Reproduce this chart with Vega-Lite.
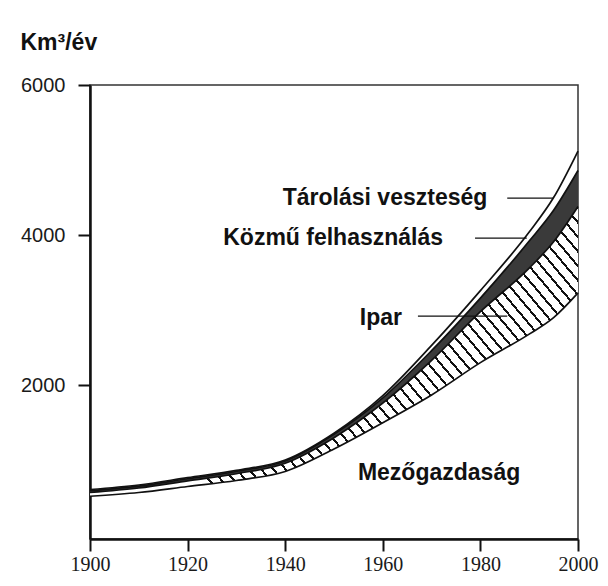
{
  "$schema": "https://vega.github.io/schema/vega-lite/v6.json",
  "width": 488,
  "height": 454,
  "autosize": "none",
  "padding": {"left": 90, "top": 85, "right": 30, "bottom": 47},
  "background": "white",
  "title": {"text": "Km³/év", "anchor": "start", "frame": "bounds", "font": "Liberation Sans", "fontSize": 23, "fontWeight": "bold", "color": "#111", "offset": 20},
  "config": {
    "view": {"stroke": "#333", "strokeWidth": 1.5},
    "axis": {"domainColor": "#111", "domainWidth": 2.5, "tickColor": "#111", "tickWidth": 2, "grid": false, "title": null, "labelColor": "#1a1a1a", "labelFlush": false, "labelOverlap": false}
  },
  "datasets": {
    "water": [
      {"year": 1900, "series": "Mezőgazdaság", "rank": 1, "value": 520},
      {"year": 1900, "series": "Ipar", "rank": 2, "value": 50},
      {"year": 1900, "series": "Közmű felhasználás", "rank": 3, "value": 25},
      {"year": 1900, "series": "Tárolási veszteség", "rank": 4, "value": 15},
      {"year": 1910, "series": "Mezőgazdaság", "rank": 1, "value": 570},
      {"year": 1910, "series": "Ipar", "rank": 2, "value": 60},
      {"year": 1910, "series": "Közmű felhasználás", "rank": 3, "value": 25},
      {"year": 1910, "series": "Tárolási veszteség", "rank": 4, "value": 15},
      {"year": 1920, "series": "Mezőgazdaság", "rank": 1, "value": 650},
      {"year": 1920, "series": "Ipar", "rank": 2, "value": 75},
      {"year": 1920, "series": "Közmű felhasználás", "rank": 3, "value": 28},
      {"year": 1920, "series": "Tárolási veszteség", "rank": 4, "value": 15},
      {"year": 1930, "series": "Mezőgazdaság", "rank": 1, "value": 730},
      {"year": 1930, "series": "Ipar", "rank": 2, "value": 90},
      {"year": 1930, "series": "Közmű felhasználás", "rank": 3, "value": 30},
      {"year": 1930, "series": "Tárolási veszteség", "rank": 4, "value": 15},
      {"year": 1940, "series": "Mezőgazdaság", "rank": 1, "value": 850},
      {"year": 1940, "series": "Ipar", "rank": 2, "value": 110},
      {"year": 1940, "series": "Közmű felhasználás", "rank": 3, "value": 30},
      {"year": 1940, "series": "Tárolási veszteség", "rank": 4, "value": 12},
      {"year": 1950, "series": "Mezőgazdaság", "rank": 1, "value": 1150},
      {"year": 1950, "series": "Ipar", "rank": 2, "value": 150},
      {"year": 1950, "series": "Közmű felhasználás", "rank": 3, "value": 45},
      {"year": 1950, "series": "Tárolási veszteség", "rank": 4, "value": 15},
      {"year": 1960, "series": "Mezőgazdaság", "rank": 1, "value": 1500},
      {"year": 1960, "series": "Ipar", "rank": 2, "value": 260},
      {"year": 1960, "series": "Közmű felhasználás", "rank": 3, "value": 70},
      {"year": 1960, "series": "Tárolási veszteség", "rank": 4, "value": 30},
      {"year": 1970, "series": "Mezőgazdaság", "rank": 1, "value": 1870},
      {"year": 1970, "series": "Ipar", "rank": 2, "value": 460},
      {"year": 1970, "series": "Közmű felhasználás", "rank": 3, "value": 130},
      {"year": 1970, "series": "Tárolási veszteség", "rank": 4, "value": 70},
      {"year": 1980, "series": "Mezőgazdaság", "rank": 1, "value": 2300},
      {"year": 1980, "series": "Ipar", "rank": 2, "value": 680},
      {"year": 1980, "series": "Közmű felhasználás", "rank": 3, "value": 180},
      {"year": 1980, "series": "Tárolási veszteség", "rank": 4, "value": 100},
      {"year": 1990, "series": "Mezőgazdaság", "rank": 1, "value": 2680},
      {"year": 1990, "series": "Ipar", "rank": 2, "value": 880},
      {"year": 1990, "series": "Közmű felhasználás", "rank": 3, "value": 360},
      {"year": 1990, "series": "Tárolási veszteség", "rank": 4, "value": 120},
      {"year": 1995, "series": "Mezőgazdaság", "rank": 1, "value": 2900},
      {"year": 1995, "series": "Ipar", "rank": 2, "value": 1010},
      {"year": 1995, "series": "Közmű felhasználás", "rank": 3, "value": 420},
      {"year": 1995, "series": "Tárolási veszteség", "rank": 4, "value": 170},
      {"year": 2000, "series": "Mezőgazdaság", "rank": 1, "value": 3230},
      {"year": 2000, "series": "Ipar", "rank": 2, "value": 1150},
      {"year": 2000, "series": "Közmű felhasználás", "rank": 3, "value": 480},
      {"year": 2000, "series": "Tárolási veszteség", "rank": 4, "value": 260}
    ],
    "labels": [
      {"year": 1939.5, "value": 4493, "text": "Tárolási veszteség"},
      {"year": 1927.3, "value": 3960, "text": "Közmű felhasználás"},
      {"year": 1955.3, "value": 2893, "text": "Ipar"},
      {"year": 1954.9, "value": 827, "text": "Mezőgazdaság"}
    ],
    "leaders": [
      {"from": 1985.5, "to": 1994.9, "value": 4493},
      {"from": 1978.9, "to": 1989.5, "value": 3960},
      {"from": 1967.2, "to": 1985.5, "value": 2920}
    ]
  },
  "layer": [
    {
      "data": {"name": "water"},
      "transform": [
        {"stack": "value", "groupby": ["year"], "sort": [{"field": "rank"}], "as": ["v0", "v1"]},
        {"filter": "datum.series === 'Ipar'"}
      ],
      "mark": {
        "type": "area", "interpolate": "monotone",
        "fill": {"gradient": "linear", "x1": 0, "y1": 0.5, "x2": 1, "y2": 0, "stops": [
          {"offset": 0.0000, "color": "#ffffff"}, {"offset": 0.0156, "color": "#ffffff"}, {"offset": 0.0156, "color": "#111111"}, {"offset": 0.0200, "color": "#111111"},
          {"offset": 0.0200, "color": "#ffffff"}, {"offset": 0.0356, "color": "#ffffff"}, {"offset": 0.0356, "color": "#111111"}, {"offset": 0.0400, "color": "#111111"},
          {"offset": 0.0400, "color": "#ffffff"}, {"offset": 0.0556, "color": "#ffffff"}, {"offset": 0.0556, "color": "#111111"}, {"offset": 0.0600, "color": "#111111"},
          {"offset": 0.0600, "color": "#ffffff"}, {"offset": 0.0756, "color": "#ffffff"}, {"offset": 0.0756, "color": "#111111"}, {"offset": 0.0800, "color": "#111111"},
          {"offset": 0.0800, "color": "#ffffff"}, {"offset": 0.0956, "color": "#ffffff"}, {"offset": 0.0956, "color": "#111111"}, {"offset": 0.1000, "color": "#111111"},
          {"offset": 0.1000, "color": "#ffffff"}, {"offset": 0.1156, "color": "#ffffff"}, {"offset": 0.1156, "color": "#111111"}, {"offset": 0.1200, "color": "#111111"},
          {"offset": 0.1200, "color": "#ffffff"}, {"offset": 0.1356, "color": "#ffffff"}, {"offset": 0.1356, "color": "#111111"}, {"offset": 0.1400, "color": "#111111"},
          {"offset": 0.1400, "color": "#ffffff"}, {"offset": 0.1556, "color": "#ffffff"}, {"offset": 0.1556, "color": "#111111"}, {"offset": 0.1600, "color": "#111111"},
          {"offset": 0.1600, "color": "#ffffff"}, {"offset": 0.1756, "color": "#ffffff"}, {"offset": 0.1756, "color": "#111111"}, {"offset": 0.1800, "color": "#111111"},
          {"offset": 0.1800, "color": "#ffffff"}, {"offset": 0.1956, "color": "#ffffff"}, {"offset": 0.1956, "color": "#111111"}, {"offset": 0.2000, "color": "#111111"},
          {"offset": 0.2000, "color": "#ffffff"}, {"offset": 0.2156, "color": "#ffffff"}, {"offset": 0.2156, "color": "#111111"}, {"offset": 0.2200, "color": "#111111"},
          {"offset": 0.2200, "color": "#ffffff"}, {"offset": 0.2356, "color": "#ffffff"}, {"offset": 0.2356, "color": "#111111"}, {"offset": 0.2400, "color": "#111111"},
          {"offset": 0.2400, "color": "#ffffff"}, {"offset": 0.2556, "color": "#ffffff"}, {"offset": 0.2556, "color": "#111111"}, {"offset": 0.2600, "color": "#111111"},
          {"offset": 0.2600, "color": "#ffffff"}, {"offset": 0.2756, "color": "#ffffff"}, {"offset": 0.2756, "color": "#111111"}, {"offset": 0.2800, "color": "#111111"},
          {"offset": 0.2800, "color": "#ffffff"}, {"offset": 0.2956, "color": "#ffffff"}, {"offset": 0.2956, "color": "#111111"}, {"offset": 0.3000, "color": "#111111"},
          {"offset": 0.3000, "color": "#ffffff"}, {"offset": 0.3156, "color": "#ffffff"}, {"offset": 0.3156, "color": "#111111"}, {"offset": 0.3200, "color": "#111111"},
          {"offset": 0.3200, "color": "#ffffff"}, {"offset": 0.3356, "color": "#ffffff"}, {"offset": 0.3356, "color": "#111111"}, {"offset": 0.3400, "color": "#111111"},
          {"offset": 0.3400, "color": "#ffffff"}, {"offset": 0.3556, "color": "#ffffff"}, {"offset": 0.3556, "color": "#111111"}, {"offset": 0.3600, "color": "#111111"},
          {"offset": 0.3600, "color": "#ffffff"}, {"offset": 0.3756, "color": "#ffffff"}, {"offset": 0.3756, "color": "#111111"}, {"offset": 0.3800, "color": "#111111"},
          {"offset": 0.3800, "color": "#ffffff"}, {"offset": 0.3956, "color": "#ffffff"}, {"offset": 0.3956, "color": "#111111"}, {"offset": 0.4000, "color": "#111111"},
          {"offset": 0.4000, "color": "#ffffff"}, {"offset": 0.4156, "color": "#ffffff"}, {"offset": 0.4156, "color": "#111111"}, {"offset": 0.4200, "color": "#111111"},
          {"offset": 0.4200, "color": "#ffffff"}, {"offset": 0.4356, "color": "#ffffff"}, {"offset": 0.4356, "color": "#111111"}, {"offset": 0.4400, "color": "#111111"},
          {"offset": 0.4400, "color": "#ffffff"}, {"offset": 0.4556, "color": "#ffffff"}, {"offset": 0.4556, "color": "#111111"}, {"offset": 0.4600, "color": "#111111"},
          {"offset": 0.4600, "color": "#ffffff"}, {"offset": 0.4756, "color": "#ffffff"}, {"offset": 0.4756, "color": "#111111"}, {"offset": 0.4800, "color": "#111111"},
          {"offset": 0.4800, "color": "#ffffff"}, {"offset": 0.4956, "color": "#ffffff"}, {"offset": 0.4956, "color": "#111111"}, {"offset": 0.5000, "color": "#111111"},
          {"offset": 0.5000, "color": "#ffffff"}, {"offset": 0.5156, "color": "#ffffff"}, {"offset": 0.5156, "color": "#111111"}, {"offset": 0.5200, "color": "#111111"},
          {"offset": 0.5200, "color": "#ffffff"}, {"offset": 0.5356, "color": "#ffffff"}, {"offset": 0.5356, "color": "#111111"}, {"offset": 0.5400, "color": "#111111"},
          {"offset": 0.5400, "color": "#ffffff"}, {"offset": 0.5556, "color": "#ffffff"}, {"offset": 0.5556, "color": "#111111"}, {"offset": 0.5600, "color": "#111111"},
          {"offset": 0.5600, "color": "#ffffff"}, {"offset": 0.5756, "color": "#ffffff"}, {"offset": 0.5756, "color": "#111111"}, {"offset": 0.5800, "color": "#111111"},
          {"offset": 0.5800, "color": "#ffffff"}, {"offset": 0.5956, "color": "#ffffff"}, {"offset": 0.5956, "color": "#111111"}, {"offset": 0.6000, "color": "#111111"},
          {"offset": 0.6000, "color": "#ffffff"}, {"offset": 0.6156, "color": "#ffffff"}, {"offset": 0.6156, "color": "#111111"}, {"offset": 0.6200, "color": "#111111"},
          {"offset": 0.6200, "color": "#ffffff"}, {"offset": 0.6356, "color": "#ffffff"}, {"offset": 0.6356, "color": "#111111"}, {"offset": 0.6400, "color": "#111111"},
          {"offset": 0.6400, "color": "#ffffff"}, {"offset": 0.6556, "color": "#ffffff"}, {"offset": 0.6556, "color": "#111111"}, {"offset": 0.6600, "color": "#111111"},
          {"offset": 0.6600, "color": "#ffffff"}, {"offset": 0.6756, "color": "#ffffff"}, {"offset": 0.6756, "color": "#111111"}, {"offset": 0.6800, "color": "#111111"},
          {"offset": 0.6800, "color": "#ffffff"}, {"offset": 0.6956, "color": "#ffffff"}, {"offset": 0.6956, "color": "#111111"}, {"offset": 0.7000, "color": "#111111"},
          {"offset": 0.7000, "color": "#ffffff"}, {"offset": 0.7156, "color": "#ffffff"}, {"offset": 0.7156, "color": "#111111"}, {"offset": 0.7200, "color": "#111111"},
          {"offset": 0.7200, "color": "#ffffff"}, {"offset": 0.7356, "color": "#ffffff"}, {"offset": 0.7356, "color": "#111111"}, {"offset": 0.7400, "color": "#111111"},
          {"offset": 0.7400, "color": "#ffffff"}, {"offset": 0.7556, "color": "#ffffff"}, {"offset": 0.7556, "color": "#111111"}, {"offset": 0.7600, "color": "#111111"},
          {"offset": 0.7600, "color": "#ffffff"}, {"offset": 0.7756, "color": "#ffffff"}, {"offset": 0.7756, "color": "#111111"}, {"offset": 0.7800, "color": "#111111"},
          {"offset": 0.7800, "color": "#ffffff"}, {"offset": 0.7956, "color": "#ffffff"}, {"offset": 0.7956, "color": "#111111"}, {"offset": 0.8000, "color": "#111111"},
          {"offset": 0.8000, "color": "#ffffff"}, {"offset": 0.8156, "color": "#ffffff"}, {"offset": 0.8156, "color": "#111111"}, {"offset": 0.8200, "color": "#111111"},
          {"offset": 0.8200, "color": "#ffffff"}, {"offset": 0.8356, "color": "#ffffff"}, {"offset": 0.8356, "color": "#111111"}, {"offset": 0.8400, "color": "#111111"},
          {"offset": 0.8400, "color": "#ffffff"}, {"offset": 0.8556, "color": "#ffffff"}, {"offset": 0.8556, "color": "#111111"}, {"offset": 0.8600, "color": "#111111"},
          {"offset": 0.8600, "color": "#ffffff"}, {"offset": 0.8756, "color": "#ffffff"}, {"offset": 0.8756, "color": "#111111"}, {"offset": 0.8800, "color": "#111111"},
          {"offset": 0.8800, "color": "#ffffff"}, {"offset": 0.8956, "color": "#ffffff"}, {"offset": 0.8956, "color": "#111111"}, {"offset": 0.9000, "color": "#111111"},
          {"offset": 0.9000, "color": "#ffffff"}, {"offset": 0.9156, "color": "#ffffff"}, {"offset": 0.9156, "color": "#111111"}, {"offset": 0.9200, "color": "#111111"},
          {"offset": 0.9200, "color": "#ffffff"}, {"offset": 0.9356, "color": "#ffffff"}, {"offset": 0.9356, "color": "#111111"}, {"offset": 0.9400, "color": "#111111"},
          {"offset": 0.9400, "color": "#ffffff"}, {"offset": 0.9556, "color": "#ffffff"}, {"offset": 0.9556, "color": "#111111"}, {"offset": 0.9600, "color": "#111111"},
          {"offset": 0.9600, "color": "#ffffff"}, {"offset": 0.9756, "color": "#ffffff"}, {"offset": 0.9756, "color": "#111111"}, {"offset": 0.9800, "color": "#111111"},
          {"offset": 0.9800, "color": "#ffffff"}, {"offset": 0.9956, "color": "#ffffff"}, {"offset": 0.9956, "color": "#111111"}, {"offset": 1.0000, "color": "#111111"}
        ]}
      },
      "encoding": {
        "x": {"field": "year", "type": "quantitative", "scale": {"domain": [1900, 2000], "nice": false, "zero": false},
              "axis": {"values": [1900, 1920, 1940, 1960, 1980, 2000], "format": "d", "tickSize": 12, "labelFont": "Liberation Serif", "labelFontSize": 20, "labelPadding": 3}},
        "y": {"field": "v1", "type": "quantitative", "scale": {"domain": [-50, 6000], "nice": false, "zero": false},
              "axis": {"values": [2000, 4000, 6000], "format": "d", "tickSize": 12, "labelFont": "Liberation Sans", "labelFontSize": 20, "labelPadding": 13}},
        "y2": {"field": "v0"}
      }
    },
    {
      "data": {"name": "water"},
      "transform": [
        {"stack": "value", "groupby": ["year"], "sort": [{"field": "rank"}], "as": ["v0", "v1"]},
        {"filter": "datum.series === 'Közmű felhasználás'"}
      ],
      "mark": {"type": "area", "interpolate": "monotone", "fill": "#3a3a3a"},
      "encoding": {
        "x": {"field": "year", "type": "quantitative"},
        "y": {"field": "v1", "type": "quantitative"},
        "y2": {"field": "v0"}
      }
    },
    {
      "data": {"name": "water"},
      "transform": [
        {"stack": "value", "groupby": ["year"], "sort": [{"field": "rank"}], "as": ["v0", "v1"]}
      ],
      "mark": {"type": "line", "interpolate": "monotone", "stroke": "#111", "strokeWidth": 1.7},
      "encoding": {
        "x": {"field": "year", "type": "quantitative"},
        "y": {"field": "v1", "type": "quantitative"},
        "detail": {"field": "series"}
      }
    },
    {
      "data": {"name": "leaders"},
      "mark": {"type": "rule", "stroke": "#111", "strokeWidth": 1.4},
      "encoding": {
        "x": {"field": "from", "type": "quantitative"},
        "x2": {"field": "to"},
        "y": {"field": "value", "type": "quantitative"}
      }
    },
    {
      "data": {"name": "labels"},
      "mark": {"type": "text", "align": "left", "baseline": "middle", "font": "Liberation Sans", "fontSize": 23, "fontWeight": "bold", "fill": "#111"},
      "encoding": {
        "x": {"field": "year", "type": "quantitative"},
        "y": {"field": "value", "type": "quantitative"},
        "text": {"field": "text"}
      }
    }
  ]
}
